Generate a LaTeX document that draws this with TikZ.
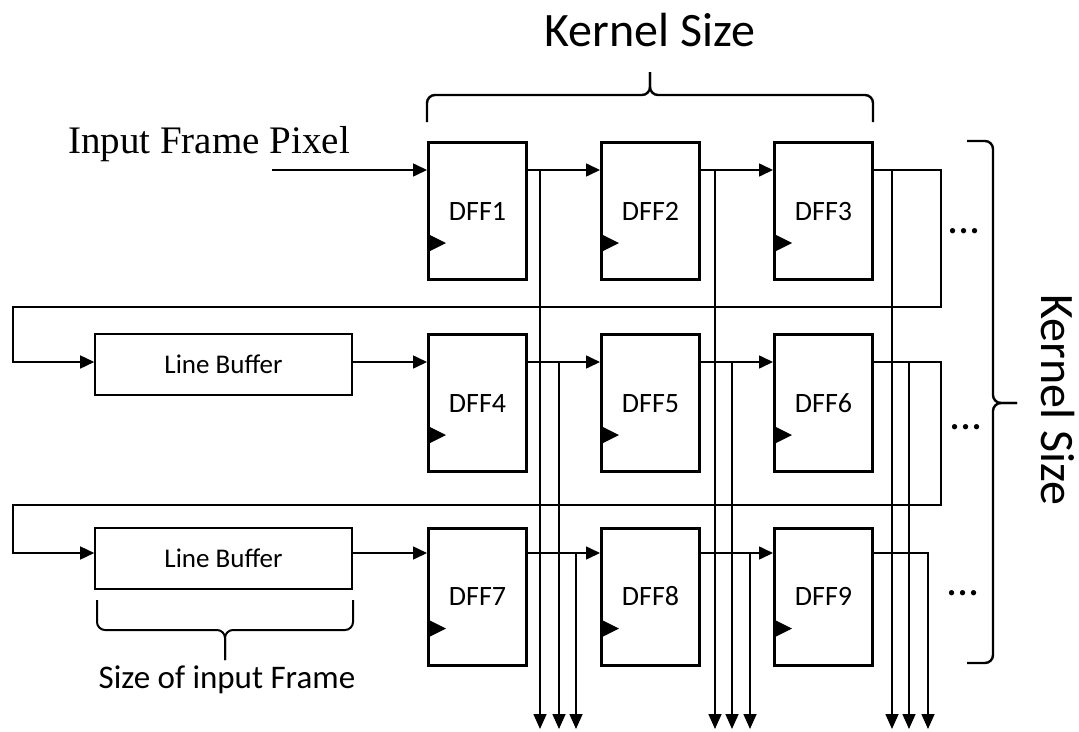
\documentclass[tikz,border=0pt]{standalone}
\usepackage{fontspec}
\setmainfont{Carlito}
\newfontfamily\serifface{Liberation Serif}
\usetikzlibrary{arrows.meta,calc}
\begin{document}
\begin{tikzpicture}[x=1pt,y=-1pt,
  dff/.style={draw,line width=3pt,minimum width=98pt,minimum height=137pt,inner sep=0pt,
    text height=18pt,text depth=0pt,font=\fontsize{28}{32}\selectfont},
  lbuf/.style={draw,line width=1.6pt,minimum width=257pt,minimum height=61pt,inner sep=0pt,
    text height=17pt,text depth=0pt,font=\fontsize{27}{30}\selectfont},
  wire/.style={line width=1.6pt},
  arr/.style={wire,-{Triangle[length=14pt,width=13pt]}},
  dnarr/.style={wire,-{Triangle[length=15pt,width=13pt]}},
  brace/.style={line width=2.4pt,rounded corners=8pt},
  dots/.style={font=\fontsize{44}{48}\selectfont,anchor=base west,inner sep=0pt},
]
\useasboundingbox (0,0) rectangle (1079,731);

% flip-flop array
\node[dff] (d1) at (477.5,211) {DFF1};
\node[dff] (d2) at (650.5,211) {DFF2};
\node[dff] (d3) at (823.5,211) {DFF3};
\node[dff] (d4) at (477.5,403) {DFF4};
\node[dff] (d5) at (650.5,403) {DFF5};
\node[dff] (d6) at (823.5,403) {DFF6};
\node[dff] (d7) at (477.5,596.5) {DFF7};
\node[dff] (d8) at (650.5,596.5) {DFF8};
\node[dff] (d9) at (823.5,596.5) {DFF9};

% line buffers
\node[lbuf] (lb1) at (223.5,364.5) {Line Buffer};
\node[lbuf] (lb2) at (223.5,558.5) {Line Buffer};

% clock inputs
\foreach \n in {d1,d2,d3,d4,d5,d6,d7,d8,d9}
  \fill ($(\n.north west)+(3,94)$) -- ++(0,16) -- ++(16,-8) -- cycle;

% row levels and wire junctions
\coordinate (r1) at (0,170);
\coordinate (r2) at (0,362);
\coordinate (r3) at (0,553);
\coordinate (bot) at (0,729);
\coordinate (src) at (272,170);
\coordinate (e1) at (941,307);
\coordinate (w1) at (13,307);
\coordinate (e2) at (941,505);
\coordinate (w2) at (13,505);
\coordinate (t11) at (540,170);
\coordinate (t12) at (715,170);
\coordinate (t13) at (892,170);
\coordinate (t21) at (559,362);
\coordinate (t22) at (732,362);
\coordinate (t23) at (909,362);
\coordinate (t31) at (576,553);
\coordinate (t32) at (750,553);
\coordinate (t33) at (928,553);

% row 1
\draw[arr] (src) -- (d1.west |- src);
\draw[arr] (d1.east |- r1) -- (d2.west |- r1);
\draw[arr] (d2.east |- r1) -- (d3.west |- r1);
\draw[arr] (d3.east |- r1) -- (e1 |- r1) -- (e1) -- (w1) -- (w1 |- r2) -- (lb1.west |- r2);
\draw[arr] (lb1.east |- r2) -- (d4.west |- r2);

% row 2
\draw[arr] (d4.east |- r2) -- (d5.west |- r2);
\draw[arr] (d5.east |- r2) -- (d6.west |- r2);
\draw[arr] (d6.east |- r2) -- (e2 |- r2) -- (e2) -- (w2) -- (w2 |- r3) -- (lb2.west |- r3);
\draw[arr] (lb2.east |- r3) -- (d7.west |- r3);

% row 3
\draw[arr] (d7.east |- r3) -- (d8.west |- r3);
\draw[arr] (d8.east |- r3) -- (d9.west |- r3);
\draw[dnarr] (d9.east |- r3) -- (t33) -- (t33 |- bot);

% parallel outputs
\foreach \t in {t11,t12,t13,t21,t22,t23,t31,t32}
  \draw[dnarr] (\t) -- (\t |- bot);

% continuation marks
\node[dots] (m1) at (947,233) {...};
\node[dots] (m2) at (949,429) {...};
\node[dots] (m3) at (946,595) {...};

% braces
\draw[brace] (427,122) -- (427,95) -- (650,95) -- (650,72);
\draw[brace] (873,122) -- (873,95) -- (650,95) -- (650,72);
\draw[brace] (967,141) -- (993,141) -- (993,403) -- (1017,403);
\draw[brace] (967,663) -- (993,663) -- (993,403) -- (1017,403);
\draw[brace,line width=2pt] (97,600) -- (97,630) -- (225,630) -- (225,660);
\draw[brace,line width=2pt] (353,600) -- (353,630) -- (225,630) -- (225,660);

% labels
\node[font=\fontsize{48}{52}\selectfont,anchor=base,inner sep=0pt] (kt) at (650,46) {Kernel Size};
\node[font=\fontsize{48}{52}\selectfont,rotate=-90,anchor=base,inner sep=0pt] (ks) at (1041,400) {Kernel Size};
\node[font=\serifface\fontsize{39}{44}\selectfont,anchor=base west,inner sep=0pt] (inp) at (68,153) {Input Frame Pixel};
\node[font=\fontsize{33}{36}\selectfont,anchor=base,inner sep=0pt] (sf) at (227,688) {Size of input Frame};
\end{tikzpicture}
\end{document}
